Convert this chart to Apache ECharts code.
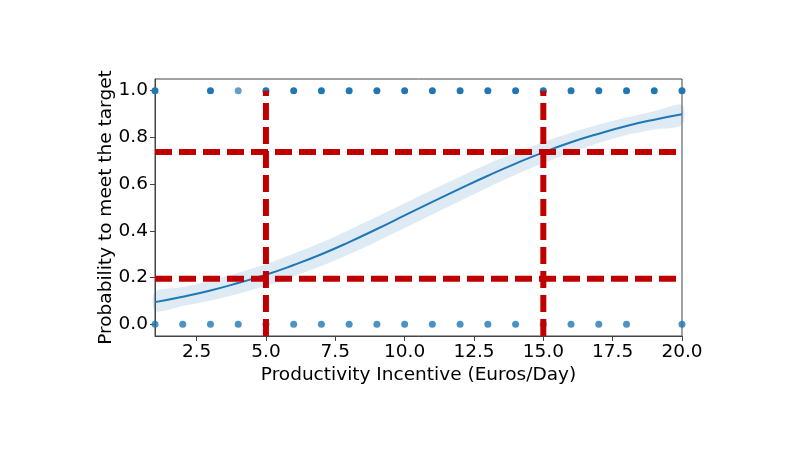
<!DOCTYPE html>
<html><head><meta charset="utf-8">
<script src="https://cdn.jsdelivr.net/npm/echarts@6/dist/echarts.min.js"></script>
<style>html,body{margin:0;padding:0;background:#fff}#c{width:800px;height:450px}</style>
</head><body><div id="c"></div>
<script>
// Data
const xs    = [1,2,3,4,5,6,7,8,9,10,11,12,13,14,15,16,17,18,19,20];
const fit   = [0.095,0.118,0.145,0.177,0.212,0.254,0.300,0.352,0.408,0.466,0.524,0.581,0.636,0.688,0.736,0.779,0.816,0.849,0.876,0.899];
const lower = [0.057,0.078,0.102,0.131,0.165,0.205,0.250,0.300,0.355,0.412,0.470,0.528,0.586,0.640,0.690,0.735,0.776,0.810,0.834,0.854];
const upper = [0.139,0.160,0.188,0.221,0.258,0.302,0.350,0.404,0.460,0.518,0.576,0.632,0.686,0.735,0.780,0.820,0.855,0.885,0.912,0.939];
const successX = [1,3,4,5,6,7,8,9,10,11,12,13,14,15,16,17,18,19,20];
const successLight = [4];
const failX = [1,2,3,4,5,6,7,8,9,10,11,12,13,14,15,16,17,18,20];
const hLines = [0.195, 0.738];
const vLines = [5, 15];
const xTicks = [2.5,5,7.5,10,12.5,15,17.5,20];
const yTicks = [0,0.2,0.4,0.6,0.8,1.0];

const BLUE = '#1f77b4', RED = '#c00000';
const font = 'DejaVu Sans';
const chart = echarts.init(document.getElementById('c'));

const series = [];
series.push({
  type: 'custom', z: 1, silent: true,
  data: [0],
  renderItem: function (params, api) {
    const pts = [];
    for (let i = 0; i < xs.length; i++) pts.push(api.coord([xs[i], upper[i]]));
    for (let i = xs.length - 1; i >= 0; i--) pts.push(api.coord([xs[i], lower[i]]));
    return { type: 'polygon', shape: { points: pts, smooth: 0.3 }, style: { fill: 'rgba(31,119,180,0.15)' } };
  }
});
series.push({
  type: 'line', z: 2, symbol: 'none', smooth: true, silent: true,
  data: xs.map((x, i) => [x, fit[i]]),
  lineStyle: { color: BLUE, width: 2 }
});
series.push({
  type: 'scatter', z: 3, symbolSize: 7, clip: false, silent: true,
  data: successX.map(x => ({ value: [x, 1], itemStyle: { opacity: successLight.includes(x) ? 0.7 : 1 } })),
  itemStyle: { color: BLUE }
});
series.push({
  type: 'scatter', z: 3, symbolSize: 7, clip: false, silent: true,
  data: failX.map(x => [x, 0]),
  itemStyle: { color: BLUE }
});
hLines.forEach(y => series.push({
  type: 'line', z: 5, symbol: 'none', silent: true,
  data: [[1, y], [20, y]],
  lineStyle: { color: RED, width: 6, type: [17, 7], cap: 'butt' }
}));
vLines.forEach(x => series.push({
  type: 'line', z: 5, symbol: 'none', silent: true,
  data: [[x, -0.05], [x, 1.0]],
  lineStyle: { color: RED, width: 6, type: [17, 7], cap: 'butt' }
}));

chart.setOption({
  animation: false,
  backgroundColor: '#fff',
  grid: { left: 155, right: 118, top: 79, bottom: 114, show: true, borderColor: '#444', borderWidth: 1, backgroundColor: 'transparent' },
  xAxis: {
    type: 'value', min: 1, max: 20,
    name: 'Productivity Incentive (Euros/Day)', nameLocation: 'middle', nameGap: 30, nameMoveOverlap: false,
    nameTextStyle: { fontFamily: font, fontSize: 18.5, color: '#000' },
    axisLine: { show: true, onZero: false, lineStyle: { color: '#444', width: 1 } },
    axisTick: { show: true, length: 5, lineStyle: { color: '#444' }, customValues: xTicks },
    axisLabel: { fontFamily: font, fontSize: 18.5, color: '#000', margin: 7, customValues: xTicks, formatter: v => v.toFixed(1) },
    splitLine: { show: false }
  },
  yAxis: {
    type: 'value', min: -0.05, max: 1.05,
    name: 'Probability to meet the target', nameLocation: 'middle', nameGap: 39, nameMoveOverlap: false,
    nameTextStyle: { fontFamily: font, fontSize: 18.5, color: '#000' },
    axisLine: { show: true, onZero: false, lineStyle: { color: '#444', width: 1 } },
    axisTick: { show: true, length: 5, lineStyle: { color: '#444' }, customValues: yTicks },
    axisLabel: { fontFamily: font, fontSize: 18.5, color: '#000', margin: 7, customValues: yTicks, formatter: v => v.toFixed(1) },
    splitLine: { show: false }
  },
  series: series
});
</script></body></html>
